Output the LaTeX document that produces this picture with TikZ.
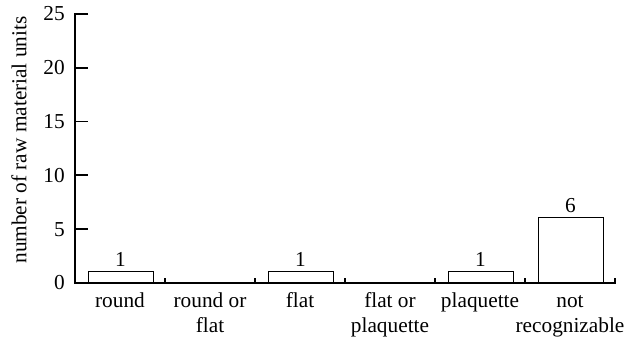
\documentclass[tikz,border=0pt]{standalone}
\usepackage{fontspec}
\setmainfont{Liberation Serif}
\usetikzlibrary{positioning}
\tikzset{Axis/.style={line width=1.8pt, line join=miter},
         Bar/.style={draw, line width=1pt, fill=white, minimum width=65pt, inner sep=0pt, anchor=south},
         Count/.style={above=5pt of #1, inner sep=0pt},
         Cat/.style={anchor=base, align=center, inner sep=0pt},
         Num/.style={anchor=east, inner sep=0pt}}
\begin{document}
\begin{tikzpicture}[x=1pt, y=1pt, font=\fontsize{21.3}{25}\selectfont]
  \useasboundingbox (-75,-60) rectangle (557,283);
  % axes
  \coordinate (O) at (0,0);
  \coordinate (Top) at (13,269);
  \coordinate (End) at (540,5);
  \draw[Axis] (Top) -- (0,269) -- (O) -- (540,0) -- (End);
  \foreach \v in {5,10,15,20} \draw[Axis] (0,10.76*\v) -- ++(13,0);
  \foreach \x in {90,180,...,450} \draw[Axis] (\x,0) -- ++(0,5);
  \foreach \v in {0,5,...,25} \node[Num] (N\v) at (-10,10.76*\v) {\v};
  \node[rotate=90] (YL) at (-56,143) {number of raw material units};
  % bars
  \node[Bar, minimum height=10.76pt] (B0) at (45.5,0) {};
  \node[Bar, minimum height=10.76pt] (B2) at (225.5,0) {};
  \node[Bar, minimum height=10.76pt] (B4) at (405.5,0) {};
  \node[Bar, minimum height=64.56pt] (B5) at (495.5,0) {};
  \node[Count=B0] (C0) {1};
  \node[Count=B2] (C2) {1};
  \node[Count=B4] (C4) {1};
  \node[Count=B5] (C5) {6};
  % categories (base = last line)
  \node[Cat] (L0) at (45,-24) {round};
  \node[Cat] (L1) at (135,-49) {round or\\flat};
  \node[Cat] (L2) at (225,-24) {flat};
  \node[Cat] (L3) at (315,-49) {flat or\\plaquette};
  \node[Cat] (L4) at (405,-24) {plaquette};
  \node[Cat] (L5) at (495,-49) {not\\recognizable};
\end{tikzpicture}
\end{document}
